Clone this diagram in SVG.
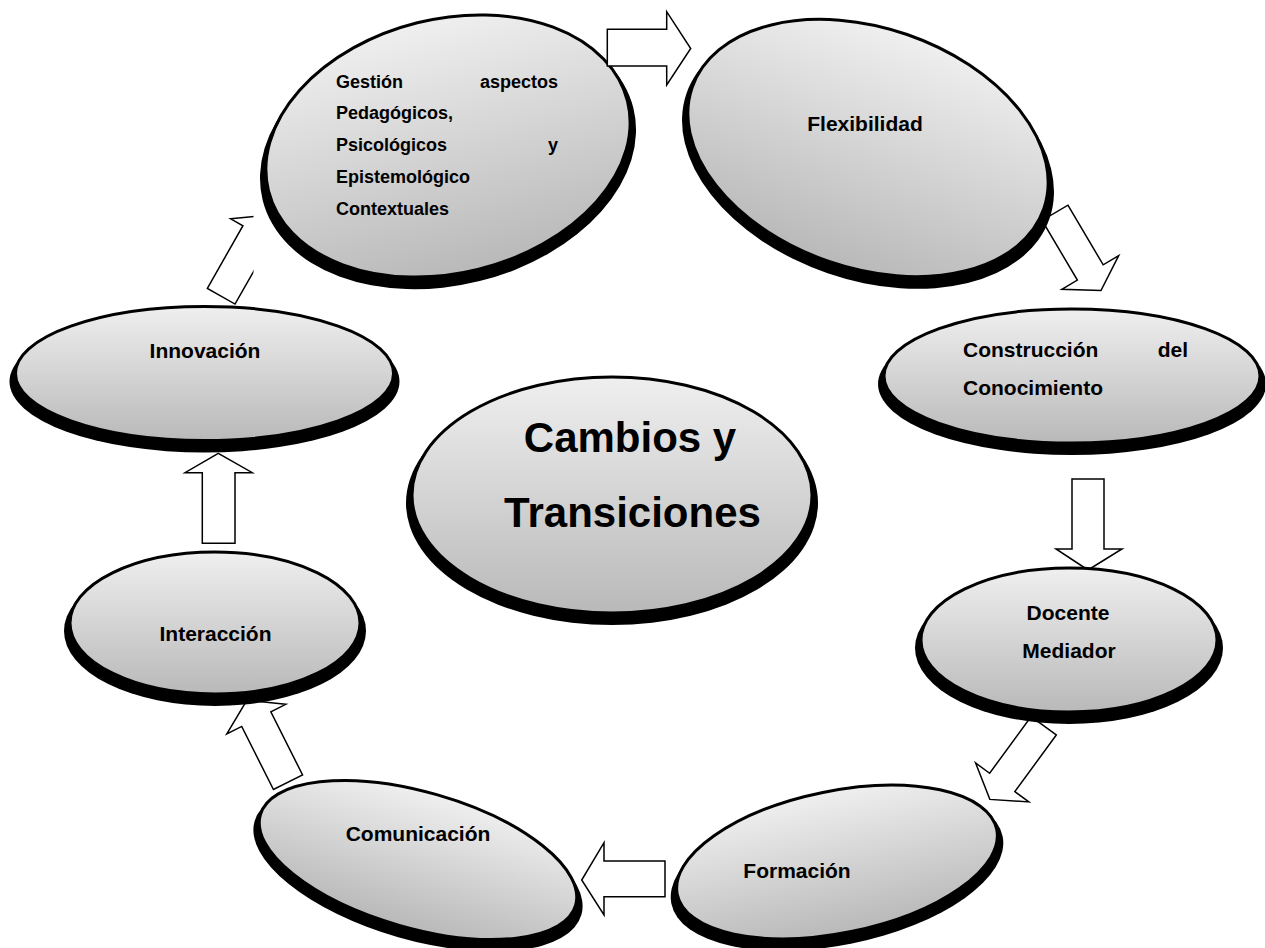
<svg xmlns="http://www.w3.org/2000/svg" width="1265" height="948" viewBox="0 0 1265 948">
<style>
.sh{fill:#000}
.el{fill:url(#g);stroke:#000;stroke-width:3}
.ar{fill:#fff;stroke:#000;stroke-width:1.5;stroke-linejoin:miter}
text{font-family:"Liberation Sans",Arial,sans-serif;font-weight:bold;fill:#000}
.t{font-size:21px}
.ts{font-size:18px}
.tb{font-size:42px}
</style>
<defs>
<linearGradient id="g" x1="0" y1="0" x2="0" y2="1">
<stop offset="0" stop-color="#efefef"/>
<stop offset="1" stop-color="#b9b9b9"/>
</linearGradient>
<clipPath id="clipA8" clipPathUnits="userSpaceOnUse"><rect x="0" y="0" width="253.5" height="948"/></clipPath>
</defs>
<rect width="1265" height="948" fill="#fff"/>
<g id="connectors">
<polygon id="a-flex-constr" class="ar" transform="translate(1055,212.8) rotate(59.4)" points="0,-15 69.3,-15 69.3,-33 90.3,0 69.3,33 69.3,15 0,15"/>
<polygon id="a-constr-doc" class="ar" points="1072,479 1104,479 1104,549 1122,549 1088,570 1056,549 1072,549"/>
<polygon id="a-doc-form" class="ar" transform="translate(1043.7,725.8) rotate(126.2)" points="0,-15.6 70.2,-15.6 70.2,-33 91.2,0 70.2,33 70.2,15.6 0,15.6"/>
<polygon id="a-com-inter" class="ar" transform="translate(288,782.2) rotate(-116.7)" points="0,-16.3 70.6,-16.3 70.6,-33 91.6,0 70.6,33 70.6,16.3 0,16.3"/>
<polygon id="a-inter-innov" class="ar" points="202.3,543.3 202.3,472.7 185,472.7 218.3,453.3 252.3,472.7 235,472.7 235,543.3"/>
<g clip-path="url(#clipA8)"><polygon id="a-innov-gest" class="ar" transform="translate(221.2,296.2) rotate(-60.4)" points="0,-15.9 72,-15.9 72,-30 93,0 72,30 72,15.9 0,15.9"/></g>
</g>
<g id="n-gestion" transform="translate(448,146)">
<ellipse class="sh" transform="translate(0,8) rotate(-14)" rx="191" ry="131"/>
<ellipse class="el" transform="rotate(-14)" rx="185" ry="127"/>
</g>
<g id="n-flex" transform="translate(868,148)">
<ellipse class="sh" transform="translate(0,8) rotate(19)" rx="192" ry="124"/>
<ellipse class="el" transform="rotate(19)" rx="186" ry="120"/>
<text class="t" x="-3" y="-17" text-anchor="middle">Flexibilidad</text>
</g>
<g id="n-constr" transform="translate(1072,376)">
<ellipse class="sh" cy="8" rx="194" ry="71"/>
<ellipse class="el" rx="188" ry="67"/>
<text class="t" x="-109" y="-19">Construcción</text>
<text class="t" x="116" y="-19" text-anchor="end">del</text>
<text class="t" x="-109" y="19">Conocimiento</text>
</g>
<g id="n-docente" transform="translate(1069,640)">
<ellipse class="sh" cy="8" rx="154" ry="76"/>
<ellipse class="el" rx="148" ry="72"/>
<text class="t" x="-1" y="-20" text-anchor="middle">Docente</text>
<text class="t" x="0" y="18" text-anchor="middle">Mediador</text>
</g>
<g id="n-formacion" transform="translate(837,862)">
<ellipse class="sh" transform="translate(0,8) rotate(-11.5)" rx="169" ry="75"/>
<ellipse class="el" transform="rotate(-11.5)" rx="163" ry="71"/>
<text class="t" x="-40" y="16" text-anchor="middle">Formación</text>
</g>
<g id="n-comunicacion" transform="translate(418,860)">
<ellipse class="sh" transform="translate(0,8) rotate(16)" rx="170" ry="72"/>
<ellipse class="el" transform="rotate(16)" rx="164" ry="68"/>
<text class="t" x="0" y="-19" text-anchor="middle">Comunicación</text>
</g>
<g id="n-interaccion" transform="translate(215,623)">
<ellipse class="sh" cy="8" rx="151" ry="75"/>
<ellipse class="el" rx="145" ry="71"/>
<text class="t" x="0.5" y="18" text-anchor="middle">Interacción</text>
</g>
<g id="n-innovacion" transform="translate(204.5,373.5)">
<ellipse class="sh" cy="8" rx="195" ry="71"/>
<ellipse class="el" rx="189" ry="67"/>
<text class="t" x="0.5" y="-16" text-anchor="middle">Innovación</text>
</g>
<g id="n-central" transform="translate(612,495)">
<ellipse class="sh" cy="8" rx="206" ry="122"/>
<ellipse class="el" rx="200" ry="118"/>
<text class="tb" x="18" y="-43" text-anchor="middle">Cambios y</text>
<text class="tb" x="20.5" y="32" text-anchor="middle">Transiciones</text>
</g>
<g id="n-gestion-text">
<text class="ts" x="336" y="87.5">Gestión</text>
<text class="ts" x="558" y="87.5" text-anchor="end">aspectos</text>
<text class="ts" x="336" y="119.3">Pedagógicos,</text>
<text class="ts" x="336" y="151.1">Psicológicos</text>
<text class="ts" x="558" y="151.1" text-anchor="end">y</text>
<text class="ts" x="336" y="182.9">Epistemológico</text>
<text class="ts" x="336" y="214.7">Contextuales</text>
</g>
<g id="connectors-front">
<polygon id="a-gest-flex" class="ar" points="607.3,29.3 666.7,29.3 666.7,11.7 690.7,48.5 666.7,85 666.7,66 607.3,66"/>
<polygon id="a-form-com" class="ar" points="665,861 604,861 604,842.7 581.7,880 604,915 604,896.7 665,896.7"/>
</g>
</svg>
